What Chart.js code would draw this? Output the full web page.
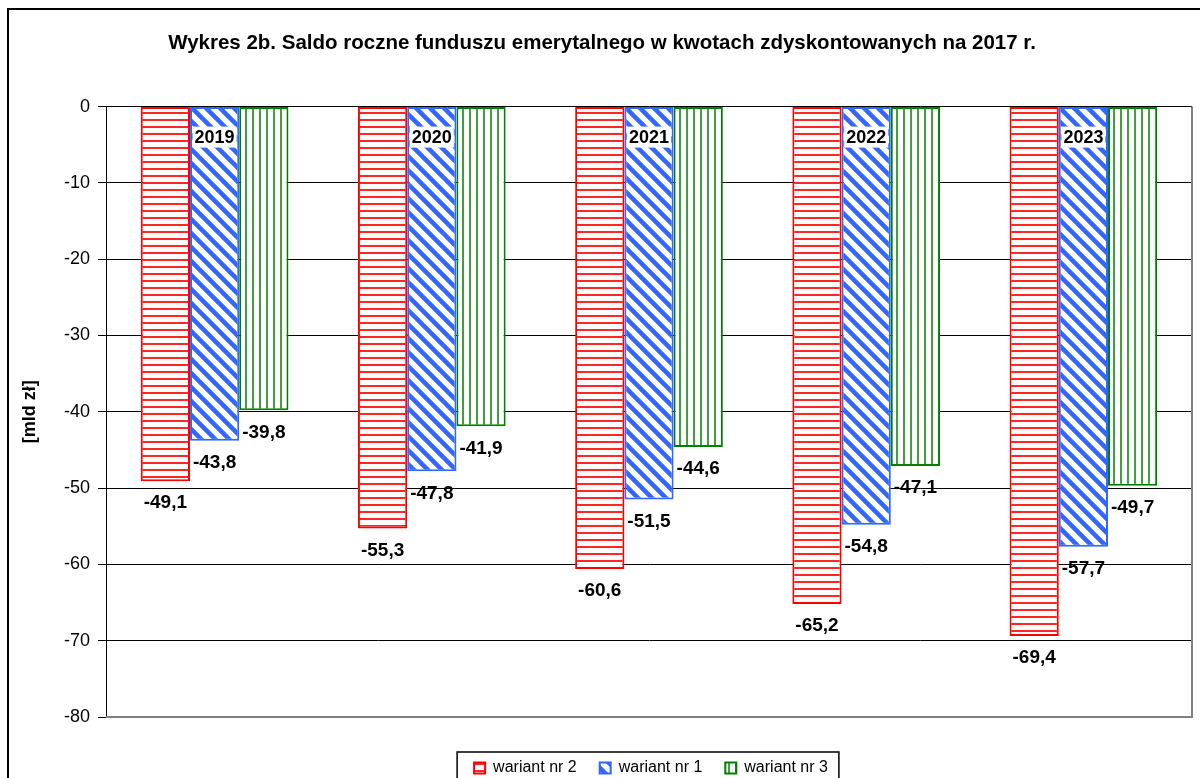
<!DOCTYPE html>
<html>
<head>
<meta charset="utf-8">
<script src="https://cdn.jsdelivr.net/npm/chart.js@4"></script>
<style>
  body { margin: 0; background: #fff; }
  canvas { display: block; }
</style>
</head>
<body>
<canvas id="myChart" width="1200" height="778"></canvas>
<script>
// data
var years = ["2019", "2020", "2021", "2022", "2023"];
var wariant2 = [-49.1, -55.3, -60.6, -65.2, -69.4];
var wariant1 = [-43.8, -47.8, -51.5, -54.8, -57.7];
var wariant3 = [-39.8, -41.9, -44.6, -47.1, -49.7];
var yMin = -80, yMax = 0, yStep = 10;

var FONT = "'Liberation Sans', Arial, sans-serif";

// hatch patterns like the excel fills
function makePattern(kind) {
  var c = document.createElement("canvas");
  var p = c.getContext("2d");
  if (kind == "h") {
    c.width = 8; c.height = 7;
    p.fillStyle = "#fff"; p.fillRect(0, 0, 8, 7);
    p.fillStyle = "rgba(255,0,0,0.85)"; p.fillRect(0, 0, 8, 2);
  } else if (kind == "d") {
    var s = 14;
    c.width = s; c.height = s;
    p.fillStyle = "#fff"; p.fillRect(0, 0, s, s);
    p.strokeStyle = "#3366ff"; p.lineWidth = 4.5;
    p.beginPath();
    p.moveTo(0, 0); p.lineTo(s, s);
    p.moveTo(-s, 0); p.lineTo(s, 2 * s);
    p.moveTo(0, -s); p.lineTo(2 * s, s);
    p.stroke();
  } else {
    c.width = 7; c.height = 8;
    p.fillStyle = "#fff"; p.fillRect(0, 0, 7, 8);
    p.fillStyle = "rgba(0,128,0,0.75)"; p.fillRect(0, 0, 2, 8);
  }
  return p.createPattern(c, "repeat");
}

var ctx = document.getElementById("myChart").getContext("2d");

var chartData = {
  labels: years,
  datasets: [
    { label: "wariant nr 2", data: wariant2, backgroundColor: makePattern("h"), borderColor: "#ff0000" },
    { label: "wariant nr 1", data: wariant1, backgroundColor: makePattern("d"), borderColor: "#3366ff" },
    { label: "wariant nr 3", data: wariant3, backgroundColor: makePattern("v"), borderColor: "#008000" }
  ]
};
chartData.datasets.forEach(function (ds) {
  ds.borderWidth = 2;
  ds.borderSkipped = false;
  ds.categoryPercentage = 0.68;
  ds.barPercentage = 1.0;
});

// background, frame, plot border, labels, legend frame
var extras = {
  id: "extras",
  beforeDraw: function (chart) {
    var c = chart.ctx;
    c.save();
    c.fillStyle = "#fff";
    c.fillRect(0, 0, chart.width, chart.height);
    c.restore();
  },
  afterLayout: function (chart) {
    // legend sits centred under the plot, not the whole canvas
    chart.legend.left += 49;
    chart.legend.right += 49;
  },
  beforeDatasetsDraw: function (chart) {
    var a = chart.chartArea, c = chart.ctx;
    c.save();
    c.strokeStyle = "#808080";
    c.lineWidth = 2;
    c.beginPath();
    c.moveTo(a.right, a.top);
    c.lineTo(a.right, a.bottom);
    c.lineTo(a.left, a.bottom);
    c.stroke();
    c.restore();
  },
  afterDatasetsDraw: function (chart) {
    var c = chart.ctx;
    c.save();
    c.fillStyle = "#000";
    c.textAlign = "center";
    c.textBaseline = "middle";
    c.font = "bold 19px " + FONT;
    chart.data.datasets.forEach(function (ds, i) {
      chart.getDatasetMeta(i).data.forEach(function (bar, j) {
        var txt = ds.data[j].toFixed(1).replace(".", ",");
        c.fillText(txt, bar.x, bar.y + 22);
      });
    });
    // year labels at the top of the bars
    c.font = "bold 18px " + FONT;
    var y0 = chart.scales.y.getPixelForValue(0) + 31;
    years.forEach(function (yr, j) {
      var x = chart.scales.x.getPixelForValue(j);
      var w = c.measureText(yr).width + 4;
      c.fillStyle = "#fff";
      c.fillRect(x - w / 2, y0 - 11, w, 21);
      c.fillStyle = "#000";
      c.fillText(yr, x, y0);
    });
    c.restore();
  },
  afterDraw: function (chart) {
    var c = chart.ctx;
    c.save();
    c.strokeStyle = "#000";
    c.lineWidth = 2;
    c.beginPath();
    c.moveTo(8, chart.height);
    c.lineTo(8, 9);
    c.lineTo(chart.width, 9);
    c.stroke();
    var hb = chart.legend.legendHitBoxes;
    if (hb && hb.length) {
      var last = hb[hb.length - 1];
      var l = hb[0].left - 17, r = last.left + last.width + 11, t = chart.legend.top + 15;
      c.lineWidth = 1.5;
      c.beginPath();
      c.moveTo(l, chart.height + 5);
      c.lineTo(l, t);
      c.lineTo(r, t);
      c.lineTo(r, chart.height + 5);
      c.stroke();
    }
    c.restore();
  }
};

var myChart = new Chart(ctx, {
  type: "bar",
  data: chartData,
  plugins: [extras],
  options: {
    responsive: false,
    animation: false,
    layout: { padding: { left: 12, right: 8, top: 0, bottom: -8 } },
    plugins: {
      title: {
        display: true,
        text: "Wykres 2b. Saldo roczne funduszu emerytalnego w kwotach zdyskontowanych na 2017 r.",
        color: "#000",
        font: { family: FONT, size: 20.5, weight: "bold" },
        padding: { top: 31, bottom: 51 }
      },
      legend: {
        position: "bottom",
        labels: {
          color: "#000",
          font: { family: FONT, size: 16 },
          boxWidth: 11,
          boxHeight: 11,
          padding: 23
        }
      },
      tooltip: { enabled: false }
    },
    scales: {
      x: {
        ticks: { display: false },
        grid: { display: false },
        border: { display: false },
        afterFit: function (scale) { scale.height = 20; }
      },
      y: {
        min: yMin,
        max: yMax,
        ticks: {
          stepSize: yStep,
          color: "#000",
          padding: 8,
          font: { family: FONT, size: 18 }
        },
        grid: { color: "#000", lineWidth: 1, tickLength: 8 },
        border: { color: "#000", width: 1 },
        title: {
          display: true,
          text: "[mld zł]",
          color: "#000",
          font: { family: FONT, size: 18, weight: "bold" },
          padding: { top: 7, bottom: 4 }
        },
        afterFit: function (scale) { scale.width = 94; }
      }
    }
  }
});
</script>
</body>
</html>
